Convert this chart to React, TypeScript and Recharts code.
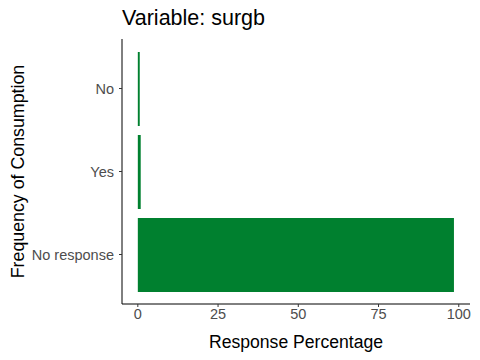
import { BarChart, Bar, XAxis, YAxis, Label } from "recharts";

const CATEGORIES = ["No", "Yes", "No response"];
const PERCENTAGES = [0.6, 0.9, 98.5];
const X_TICKS = [0, 25, 50, 75, 100];

const BAR_COLOR = "#00802F";
const FONT = "'Liberation Sans', Arial, sans-serif";
const TICK_STYLE = { fill: "#4D4D4D", fontSize: 14.5, fontFamily: FONT };

const data = CATEGORIES.map((category, i) => ({
  category,
  value: PERCENTAGES[i],
}));

export default function App() {
  return (
    <div style={{ position: "absolute", left: 0, top: 0, width: 480, height: 360, background: "#fff" }}>
      <div
        style={{
          position: "absolute",
          left: 122,
          top: 6,
          fontFamily: FONT,
          fontSize: 21.5,
          color: "#000",
          lineHeight: "24px",
        }}
      >
        Variable: surgb
      </div>
      <BarChart
        width={480}
        height={360}
        data={data}
        layout="vertical"
        margin={{ top: 39, right: 10, bottom: 0, left: 0 }}
      >
        <XAxis
          type="number"
          domain={[-4.93, 103.5]}
          ticks={X_TICKS}
          allowDataOverflow
          tickSize={3}
          tick={TICK_STYLE}
          tickMargin={2}
          axisLine={{ stroke: "#000", strokeWidth: 1 }}
          tickLine={{ stroke: "#333" }}
          height={56}
        >
          <Label
            value="Response Percentage"
            position="insideBottom"
            offset={12}
            style={{ fill: "#000", fontSize: 17.6, fontFamily: FONT }}
          />
        </XAxis>
        <YAxis
          type="category"
          dataKey="category"
          width={122}
          padding={{ top: 8, bottom: 8 }}
          tickSize={3}
          tick={TICK_STYLE}
          tickMargin={5}
          axisLine={{ stroke: "#000", strokeWidth: 1 }}
          tickLine={{ stroke: "#333" }}
        >
          <Label
            value="Frequency of Consumption"
            angle={-90}
            position="insideLeft"
            offset={18}
            textAnchor="middle"
            style={{ fill: "#000", fontSize: 17.8, fontFamily: FONT, textAnchor: "middle" }}
          />
        </YAxis>
        <Bar dataKey="value" fill={BAR_COLOR} barSize={74} isAnimationActive={false} />
      </BarChart>
    </div>
  );
}
